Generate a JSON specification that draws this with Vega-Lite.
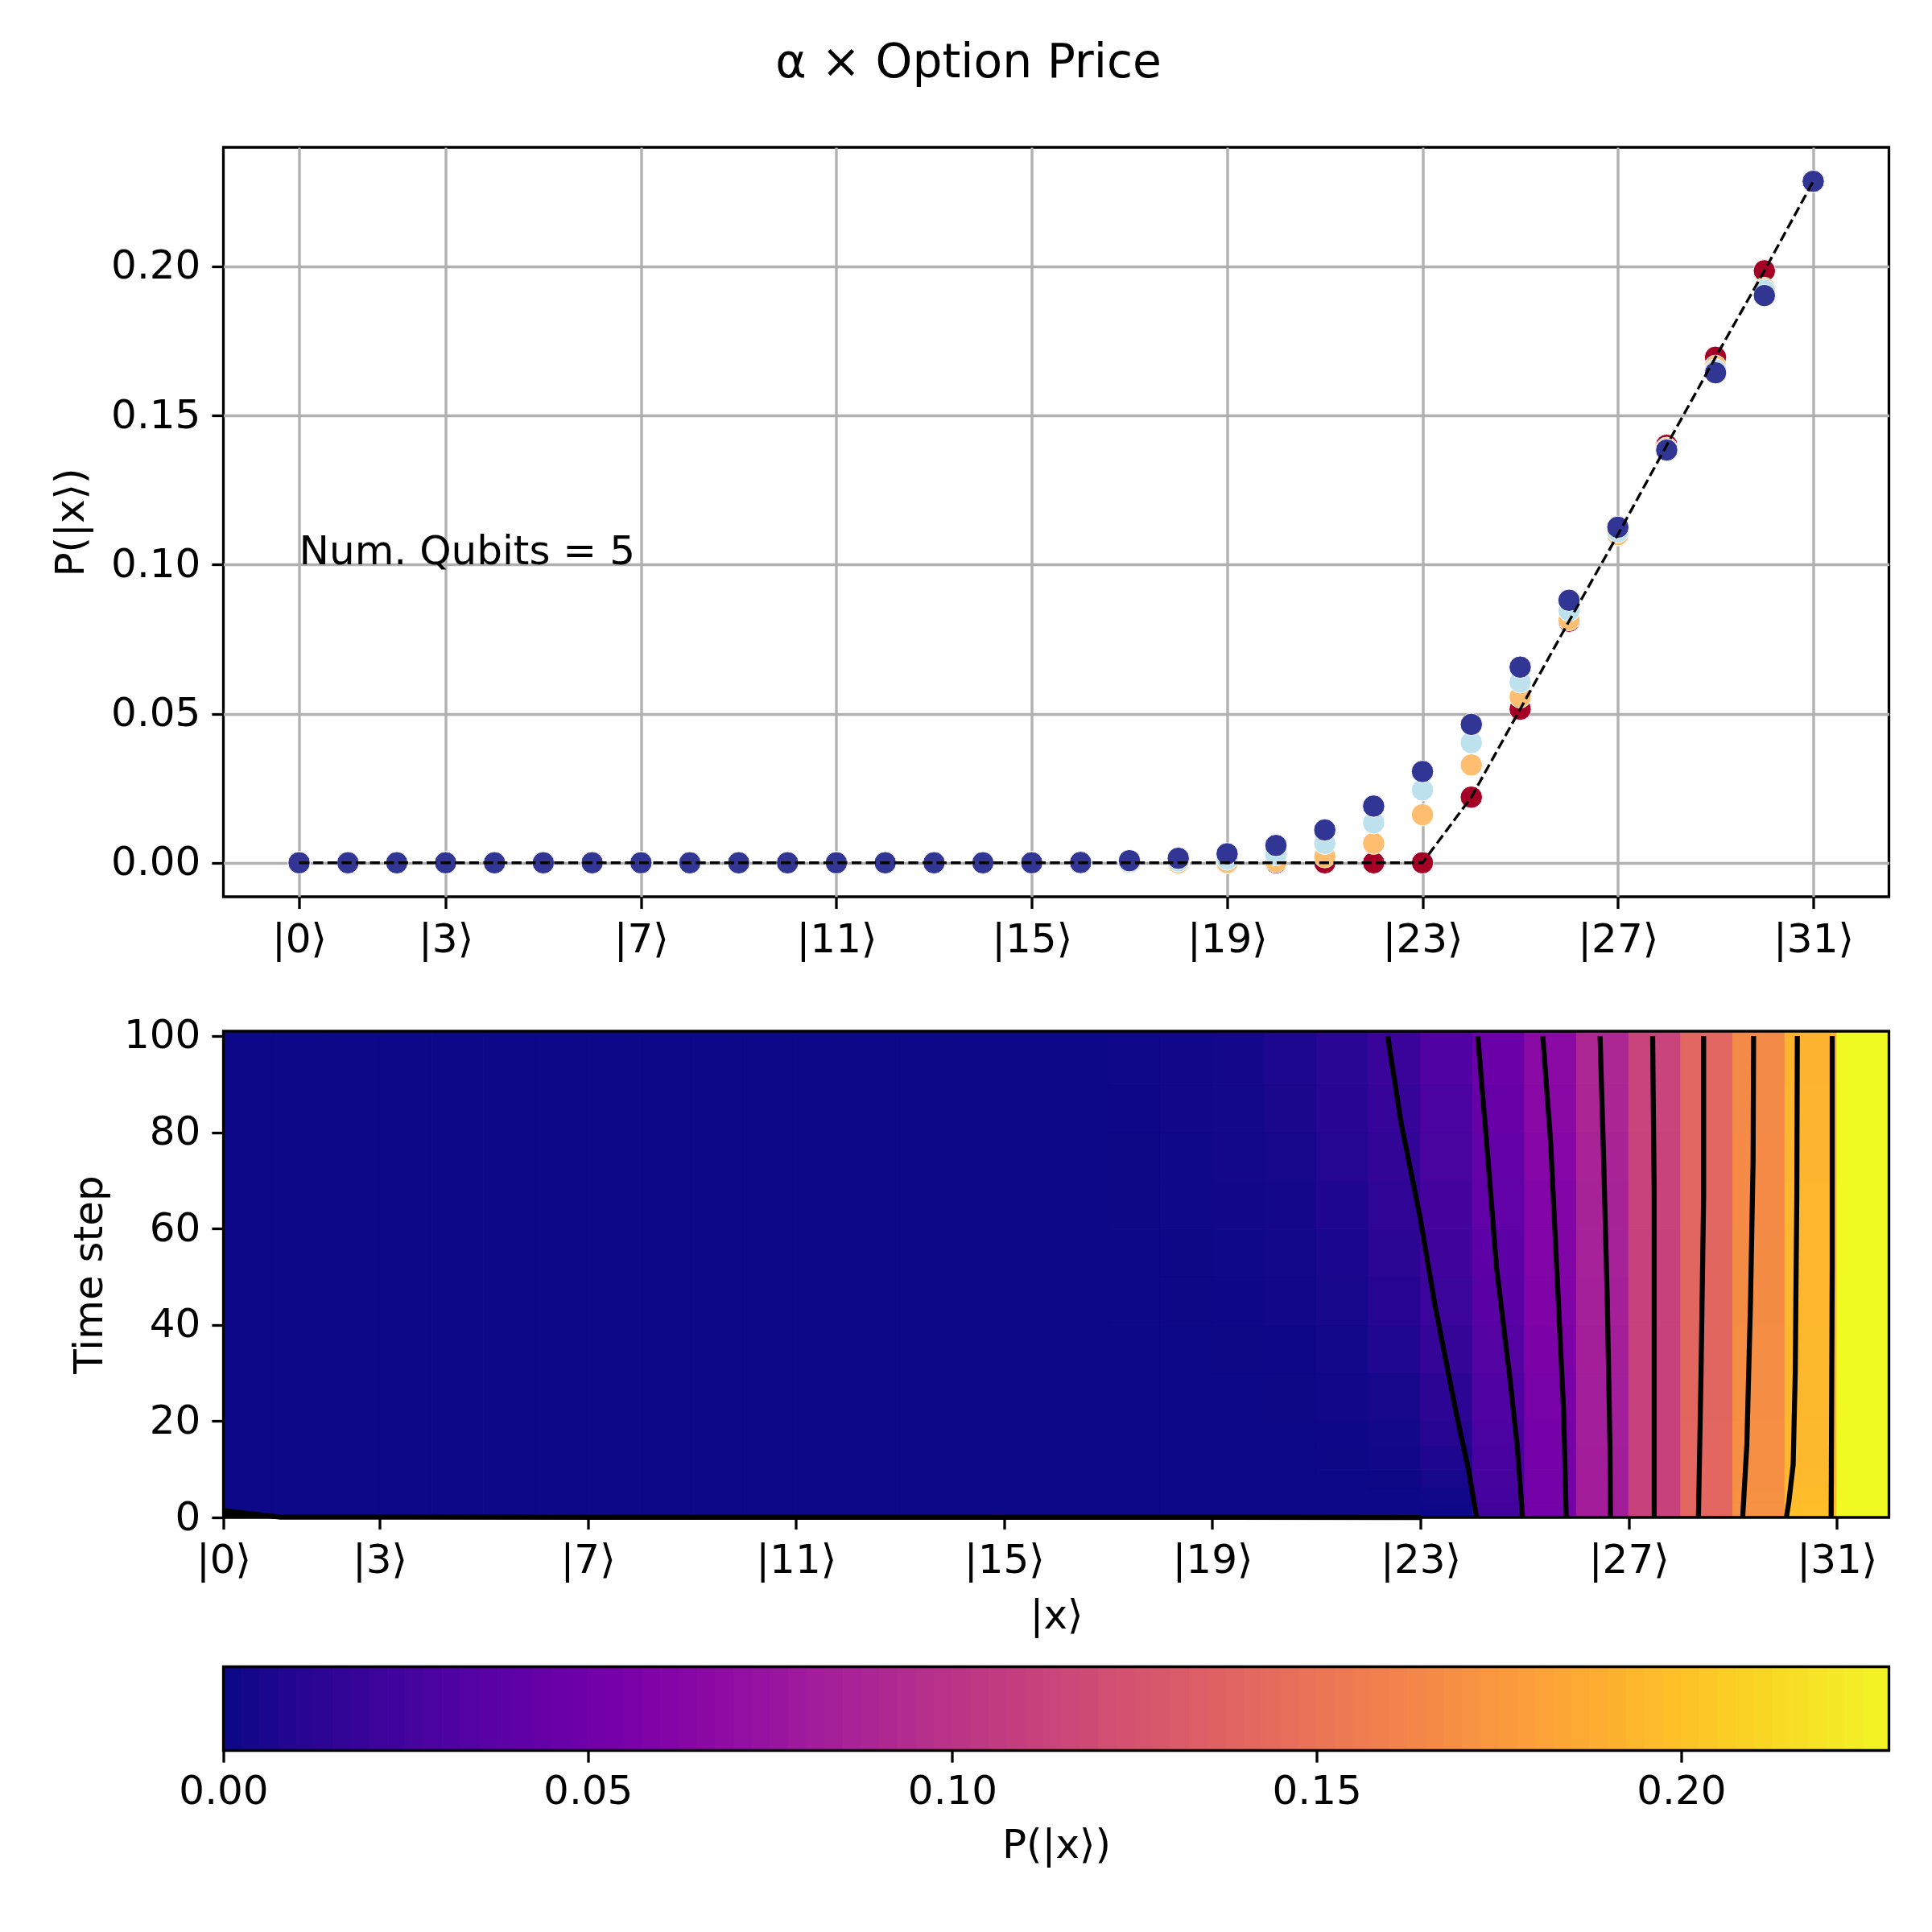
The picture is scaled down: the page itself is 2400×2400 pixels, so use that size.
{
  "$schema": "https://vega.github.io/schema/vega-lite/v6.json",
  "padding": {"left": 61.5, "top": 49, "right": 0, "bottom": 30},
  "background": "white",
  "title": {"text": "α × Option Price", "anchor": "middle", "dx": -2, "offset": 73, "fontSize": 58.3, "fontWeight": "normal", "font": "DejaVu Sans", "color": "black"},
  "bounds": "flush",
  "spacing": 167,
  "datasets": {
    "series": [
      {"state":0,"step":"t0","p":0},{"state":1,"step":"t0","p":0},{"state":2,"step":"t0","p":0},{"state":3,"step":"t0","p":0},{"state":4,"step":"t0","p":0},{"state":5,"step":"t0","p":0},{"state":6,"step":"t0","p":0},{"state":7,"step":"t0","p":0},{"state":8,"step":"t0","p":0},{"state":9,"step":"t0","p":0},{"state":10,"step":"t0","p":0},{"state":11,"step":"t0","p":0},{"state":12,"step":"t0","p":0},{"state":13,"step":"t0","p":0},{"state":14,"step":"t0","p":0},{"state":15,"step":"t0","p":0},{"state":16,"step":"t0","p":0},{"state":17,"step":"t0","p":0},{"state":18,"step":"t0","p":0},{"state":19,"step":"t0","p":0},{"state":20,"step":"t0","p":0},{"state":21,"step":"t0","p":0},{"state":22,"step":"t0","p":0},{"state":23,"step":"t0","p":0},{"state":24,"step":"t0","p":0.022},{"state":25,"step":"t0","p":0.0515},{"state":26,"step":"t0","p":0.081},{"state":27,"step":"t0","p":0.11},{"state":28,"step":"t0","p":0.14},{"state":29,"step":"t0","p":0.1695},{"state":30,"step":"t0","p":0.1985},{"state":31,"step":"t0","p":0.2285},
      {"state":0,"step":"t33","p":0},{"state":1,"step":"t33","p":0},{"state":2,"step":"t33","p":0},{"state":3,"step":"t33","p":0},{"state":4,"step":"t33","p":0},{"state":5,"step":"t33","p":0},{"state":6,"step":"t33","p":0},{"state":7,"step":"t33","p":0},{"state":8,"step":"t33","p":0},{"state":9,"step":"t33","p":0},{"state":10,"step":"t33","p":0},{"state":11,"step":"t33","p":0},{"state":12,"step":"t33","p":0},{"state":13,"step":"t33","p":0},{"state":14,"step":"t33","p":0},{"state":15,"step":"t33","p":0},{"state":16,"step":"t33","p":0},{"state":17,"step":"t33","p":0},{"state":18,"step":"t33","p":0},{"state":19,"step":"t33","p":0.0001},{"state":20,"step":"t33","p":0.0004},{"state":21,"step":"t33","p":0.002},{"state":22,"step":"t33","p":0.0065},{"state":23,"step":"t33","p":0.0161},{"state":24,"step":"t33","p":0.0328},{"state":25,"step":"t33","p":0.0556},{"state":26,"step":"t33","p":0.0815},{"state":27,"step":"t33","p":0.11},{"state":28,"step":"t33","p":0.139},{"state":29,"step":"t33","p":0.1665},{"state":30,"step":"t33","p":0.1926},{"state":31,"step":"t33","p":0.2285},
      {"state":0,"step":"t66","p":0},{"state":1,"step":"t66","p":0},{"state":2,"step":"t66","p":0},{"state":3,"step":"t66","p":0},{"state":4,"step":"t66","p":0},{"state":5,"step":"t66","p":0},{"state":6,"step":"t66","p":0},{"state":7,"step":"t66","p":0},{"state":8,"step":"t66","p":0},{"state":9,"step":"t66","p":0},{"state":10,"step":"t66","p":0},{"state":11,"step":"t66","p":0},{"state":12,"step":"t66","p":0},{"state":13,"step":"t66","p":0},{"state":14,"step":"t66","p":0},{"state":15,"step":"t66","p":0},{"state":16,"step":"t66","p":0},{"state":17,"step":"t66","p":0.0002},{"state":18,"step":"t66","p":0.0006},{"state":19,"step":"t66","p":0.0012},{"state":20,"step":"t66","p":0.0027},{"state":21,"step":"t66","p":0.0065},{"state":22,"step":"t66","p":0.0134},{"state":23,"step":"t66","p":0.0244},{"state":24,"step":"t66","p":0.0403},{"state":25,"step":"t66","p":0.0606},{"state":26,"step":"t66","p":0.0846},{"state":27,"step":"t66","p":0.111},{"state":28,"step":"t66","p":0.1385},{"state":29,"step":"t66","p":0.1653},{"state":30,"step":"t66","p":0.192},{"state":31,"step":"t66","p":0.2285},
      {"state":0,"step":"t100","p":0},{"state":1,"step":"t100","p":0},{"state":2,"step":"t100","p":0},{"state":3,"step":"t100","p":0},{"state":4,"step":"t100","p":0},{"state":5,"step":"t100","p":0},{"state":6,"step":"t100","p":0},{"state":7,"step":"t100","p":0},{"state":8,"step":"t100","p":0},{"state":9,"step":"t100","p":0},{"state":10,"step":"t100","p":0},{"state":11,"step":"t100","p":0},{"state":12,"step":"t100","p":0},{"state":13,"step":"t100","p":0},{"state":14,"step":"t100","p":0},{"state":15,"step":"t100","p":0},{"state":16,"step":"t100","p":0.0001},{"state":17,"step":"t100","p":0.0007},{"state":18,"step":"t100","p":0.0015},{"state":19,"step":"t100","p":0.003},{"state":20,"step":"t100","p":0.0058},{"state":21,"step":"t100","p":0.011},{"state":22,"step":"t100","p":0.019},{"state":23,"step":"t100","p":0.0306},{"state":24,"step":"t100","p":0.0464},{"state":25,"step":"t100","p":0.0656},{"state":26,"step":"t100","p":0.088},{"state":27,"step":"t100","p":0.1125},{"state":28,"step":"t100","p":0.1384},{"state":29,"step":"t100","p":0.1643},{"state":30,"step":"t100","p":0.1902},{"state":31,"step":"t100","p":0.2285}
    ],
    "cells": [
      {"x":0,"x2":1,"t":0,"t2":101,"p":0},{"x":1,"x2":2,"t":0,"t2":101,"p":0},{"x":2,"x2":3,"t":0,"t2":101,"p":0},{"x":3,"x2":4,"t":0,"t2":101,"p":0},{"x":4,"x2":5,"t":0,"t2":101,"p":0},{"x":5,"x2":6,"t":0,"t2":101,"p":0},{"x":6,"x2":7,"t":0,"t2":101,"p":0},{"x":7,"x2":8,"t":0,"t2":101,"p":0},{"x":8,"x2":9,"t":0,"t2":101,"p":0},{"x":9,"x2":10,"t":0,"t2":101,"p":0},{"x":10,"x2":11,"t":0,"t2":101,"p":0},{"x":11,"x2":12,"t":0,"t2":101,"p":0},{"x":12,"x2":13,"t":0,"t2":101,"p":0},{"x":13,"x2":14,"t":0,"t2":101,"p":0},{"x":14,"x2":15,"t":0,"t2":101,"p":0},{"x":15,"x2":16,"t":0,"t2":101,"p":0},{"x":16,"x2":17,"t":0,"t2":101,"p":0},
      {"x":17,"x2":18,"t":0,"t2":40,"p":0},{"x":17,"x2":18,"t":40,"t2":60,"p":0.0001},{"x":17,"x2":18,"t":60,"t2":70,"p":0.0002},{"x":17,"x2":18,"t":70,"t2":80,"p":0.0003},{"x":17,"x2":18,"t":80,"t2":90,"p":0.0005},{"x":17,"x2":18,"t":90,"t2":101,"p":0.0007},
      {"x":18,"x2":19,"t":0,"t2":40,"p":0},{"x":18,"x2":19,"t":40,"t2":50,"p":0.0002},{"x":18,"x2":19,"t":50,"t2":60,"p":0.0004},{"x":18,"x2":19,"t":60,"t2":70,"p":0.0006},{"x":18,"x2":19,"t":70,"t2":80,"p":0.0008},{"x":18,"x2":19,"t":80,"t2":90,"p":0.0011},{"x":18,"x2":19,"t":90,"t2":101,"p":0.0014},
      {"x":19,"x2":20,"t":0,"t2":20,"p":0},{"x":19,"x2":20,"t":20,"t2":30,"p":0.0001},{"x":19,"x2":20,"t":30,"t2":40,"p":0.0002},{"x":19,"x2":20,"t":40,"t2":50,"p":0.0005},{"x":19,"x2":20,"t":50,"t2":60,"p":0.0008},{"x":19,"x2":20,"t":60,"t2":70,"p":0.0012},{"x":19,"x2":20,"t":70,"t2":80,"p":0.0016},{"x":19,"x2":20,"t":80,"t2":90,"p":0.0022},{"x":19,"x2":20,"t":90,"t2":101,"p":0.0028},
      {"x":20,"x2":21,"t":0,"t2":15,"p":0},{"x":20,"x2":21,"t":15,"t2":20,"p":0.0001},{"x":20,"x2":21,"t":20,"t2":30,"p":0.0002},{"x":20,"x2":21,"t":30,"t2":40,"p":0.0005},{"x":20,"x2":21,"t":40,"t2":50,"p":0.001},{"x":20,"x2":21,"t":50,"t2":60,"p":0.0018},{"x":20,"x2":21,"t":60,"t2":70,"p":0.0027},{"x":20,"x2":21,"t":70,"t2":80,"p":0.0036},{"x":20,"x2":21,"t":80,"t2":90,"p":0.0046},{"x":20,"x2":21,"t":90,"t2":101,"p":0.0056},
      {"x":21,"x2":22,"t":0,"t2":10,"p":0},{"x":21,"x2":22,"t":10,"t2":15,"p":0.0002},{"x":21,"x2":22,"t":15,"t2":20,"p":0.0005},{"x":21,"x2":22,"t":20,"t2":30,"p":0.001},{"x":21,"x2":22,"t":30,"t2":40,"p":0.0022},{"x":21,"x2":22,"t":40,"t2":50,"p":0.0035},{"x":21,"x2":22,"t":50,"t2":60,"p":0.005},{"x":21,"x2":22,"t":60,"t2":70,"p":0.0065},{"x":21,"x2":22,"t":70,"t2":80,"p":0.0079},{"x":21,"x2":22,"t":80,"t2":90,"p":0.0094},{"x":21,"x2":22,"t":90,"t2":101,"p":0.0107},
      {"x":22,"x2":23,"t":0,"t2":6,"p":0},{"x":22,"x2":23,"t":6,"t2":10,"p":0.0003},{"x":22,"x2":23,"t":10,"t2":15,"p":0.0009},{"x":22,"x2":23,"t":15,"t2":20,"p":0.0018},{"x":22,"x2":23,"t":20,"t2":30,"p":0.0035},{"x":22,"x2":23,"t":30,"t2":40,"p":0.0068},{"x":22,"x2":23,"t":40,"t2":50,"p":0.009},{"x":22,"x2":23,"t":50,"t2":60,"p":0.0112},{"x":22,"x2":23,"t":60,"t2":70,"p":0.0134},{"x":22,"x2":23,"t":70,"t2":80,"p":0.0152},{"x":22,"x2":23,"t":80,"t2":90,"p":0.0172},{"x":22,"x2":23,"t":90,"t2":101,"p":0.0187},
      {"x":23,"x2":24,"t":0,"t2":1,"p":0},{"x":23,"x2":24,"t":1,"t2":3,"p":0.0005},{"x":23,"x2":24,"t":3,"t2":6,"p":0.0015},{"x":23,"x2":24,"t":6,"t2":10,"p":0.0035},{"x":23,"x2":24,"t":10,"t2":15,"p":0.0065},{"x":23,"x2":24,"t":15,"t2":20,"p":0.009},{"x":23,"x2":24,"t":20,"t2":30,"p":0.0125},{"x":23,"x2":24,"t":30,"t2":40,"p":0.0165},{"x":23,"x2":24,"t":40,"t2":50,"p":0.0195},{"x":23,"x2":24,"t":50,"t2":60,"p":0.022},{"x":23,"x2":24,"t":60,"t2":70,"p":0.0244},{"x":23,"x2":24,"t":70,"t2":80,"p":0.0265},{"x":23,"x2":24,"t":80,"t2":90,"p":0.0285},{"x":23,"x2":24,"t":90,"t2":101,"p":0.0303},
      {"x":24,"x2":25,"t":0,"t2":1,"p":0.022},{"x":24,"x2":25,"t":1,"t2":3,"p":0.0228},{"x":24,"x2":25,"t":3,"t2":6,"p":0.0238},{"x":24,"x2":25,"t":6,"t2":10,"p":0.025},{"x":24,"x2":25,"t":10,"t2":15,"p":0.0268},{"x":24,"x2":25,"t":15,"t2":20,"p":0.0285},{"x":24,"x2":25,"t":20,"t2":30,"p":0.0305},{"x":24,"x2":25,"t":30,"t2":40,"p":0.0332},{"x":24,"x2":25,"t":40,"t2":50,"p":0.0355},{"x":24,"x2":25,"t":50,"t2":60,"p":0.038},{"x":24,"x2":25,"t":60,"t2":70,"p":0.0403},{"x":24,"x2":25,"t":70,"t2":80,"p":0.0423},{"x":24,"x2":25,"t":80,"t2":90,"p":0.0443},{"x":24,"x2":25,"t":90,"t2":101,"p":0.0461},
      {"x":25,"x2":26,"t":0,"t2":3,"p":0.0515},{"x":25,"x2":26,"t":3,"t2":10,"p":0.0519},{"x":25,"x2":26,"t":10,"t2":15,"p":0.0525},{"x":25,"x2":26,"t":15,"t2":20,"p":0.053},{"x":25,"x2":26,"t":20,"t2":30,"p":0.054},{"x":25,"x2":26,"t":30,"t2":40,"p":0.056},{"x":25,"x2":26,"t":40,"t2":50,"p":0.0575},{"x":25,"x2":26,"t":50,"t2":60,"p":0.059},{"x":25,"x2":26,"t":60,"t2":70,"p":0.0606},{"x":25,"x2":26,"t":70,"t2":80,"p":0.0622},{"x":25,"x2":26,"t":80,"t2":90,"p":0.0638},{"x":25,"x2":26,"t":90,"t2":101,"p":0.0654},
      {"x":26,"x2":27,"t":0,"t2":15,"p":0.081},{"x":26,"x2":27,"t":15,"t2":30,"p":0.0813},{"x":26,"x2":27,"t":30,"t2":40,"p":0.0817},{"x":26,"x2":27,"t":40,"t2":50,"p":0.0825},{"x":26,"x2":27,"t":50,"t2":60,"p":0.0835},{"x":26,"x2":27,"t":60,"t2":70,"p":0.0846},{"x":26,"x2":27,"t":70,"t2":80,"p":0.0857},{"x":26,"x2":27,"t":80,"t2":90,"p":0.0868},{"x":26,"x2":27,"t":90,"t2":101,"p":0.0878},
      {"x":27,"x2":28,"t":0,"t2":40,"p":0.11},{"x":27,"x2":28,"t":40,"t2":60,"p":0.1105},{"x":27,"x2":28,"t":60,"t2":80,"p":0.1112},{"x":27,"x2":28,"t":80,"t2":101,"p":0.1122},
      {"x":28,"x2":29,"t":0,"t2":20,"p":0.1394},{"x":28,"x2":29,"t":20,"t2":60,"p":0.139},{"x":28,"x2":29,"t":60,"t2":101,"p":0.1385},
      {"x":29,"x2":30,"t":0,"t2":3,"p":0.1688},{"x":29,"x2":30,"t":3,"t2":6,"p":0.1682},{"x":29,"x2":30,"t":6,"t2":10,"p":0.1678},{"x":29,"x2":30,"t":10,"t2":20,"p":0.1673},{"x":29,"x2":30,"t":20,"t2":40,"p":0.1666},{"x":29,"x2":30,"t":40,"t2":60,"p":0.1658},{"x":29,"x2":30,"t":60,"t2":80,"p":0.1651},{"x":29,"x2":30,"t":80,"t2":101,"p":0.1645},
      {"x":30,"x2":31,"t":0,"t2":1,"p":0.1985},{"x":30,"x2":31,"t":1,"t2":3,"p":0.197},{"x":30,"x2":31,"t":3,"t2":6,"p":0.1958},{"x":30,"x2":31,"t":6,"t2":10,"p":0.1947},{"x":30,"x2":31,"t":10,"t2":20,"p":0.1935},{"x":30,"x2":31,"t":20,"t2":40,"p":0.1927},{"x":30,"x2":31,"t":40,"t2":70,"p":0.1921},{"x":30,"x2":31,"t":70,"t2":90,"p":0.1912},{"x":30,"x2":31,"t":90,"t2":101,"p":0.1903},
      {"x":31,"x2":32,"t":0,"t2":101,"p":0.2285}
    ],
    "contours": [
      {"level":0,"x":0,"t":1.4},{"level":0,"x":1.1,"t":0.05},{"level":0,"x":23,"t":0},
      {"level":0.025,"x":22.37,"t":100},{"level":0.025,"x":22.63,"t":81.8},{"level":0.025,"x":22.99,"t":62.5},{"level":0.025,"x":23.27,"t":44.6},{"level":0.025,"x":23.68,"t":22},{"level":0.025,"x":23.93,"t":9.5},{"level":0.025,"x":24.08,"t":0},
      {"level":0.05,"x":24.1,"t":100},{"level":0.05,"x":24.27,"t":78},{"level":0.05,"x":24.46,"t":52},{"level":0.05,"x":24.71,"t":29.6},{"level":0.05,"x":24.86,"t":14.7},{"level":0.05,"x":24.96,"t":0},
      {"level":0.075,"x":25.35,"t":100},{"level":0.075,"x":25.5,"t":78},{"level":0.075,"x":25.65,"t":44.6},{"level":0.075,"x":25.75,"t":22},{"level":0.075,"x":25.8,"t":0},
      {"level":0.1,"x":26.45,"t":100},{"level":0.1,"x":26.52,"t":74},{"level":0.1,"x":26.59,"t":44.6},{"level":0.1,"x":26.64,"t":15},{"level":0.1,"x":26.65,"t":0},
      {"level":0.125,"x":27.46,"t":100},{"level":0.125,"x":27.49,"t":67},{"level":0.125,"x":27.49,"t":0},
      {"level":0.15,"x":28.44,"t":100},{"level":0.15,"x":28.44,"t":67},{"level":0.15,"x":28.39,"t":30},{"level":0.15,"x":28.34,"t":0},
      {"level":0.175,"x":29.4,"t":100},{"level":0.175,"x":29.39,"t":74},{"level":0.175,"x":29.34,"t":44.6},{"level":0.175,"x":29.27,"t":15},{"level":0.175,"x":29.19,"t":0},
      {"level":0.2,"x":30.24,"t":100},{"level":0.2,"x":30.23,"t":67},{"level":0.2,"x":30.2,"t":30},{"level":0.2,"x":30.16,"t":11},{"level":0.2,"x":30.08,"t":3.5},{"level":0.2,"x":30.03,"t":0},
      {"level":0.225,"x":30.91,"t":100},{"level":0.225,"x":30.91,"t":52},{"level":0.225,"x":30.89,"t":0}
    ],
    "colorbar": [
      {"v":0,"v2":0.0025},{"v":0.0025,"v2":0.005},{"v":0.005,"v2":0.0075},{"v":0.0075,"v2":0.01},{"v":0.01,"v2":0.0125},{"v":0.0125,"v2":0.015},{"v":0.015,"v2":0.0175},{"v":0.0175,"v2":0.02},{"v":0.02,"v2":0.0225},{"v":0.0225,"v2":0.025},{"v":0.025,"v2":0.0275},{"v":0.0275,"v2":0.03},{"v":0.03,"v2":0.0325},{"v":0.0325,"v2":0.035},{"v":0.035,"v2":0.0375},{"v":0.0375,"v2":0.04},{"v":0.04,"v2":0.0425},{"v":0.0425,"v2":0.045},{"v":0.045,"v2":0.0475},{"v":0.0475,"v2":0.05},{"v":0.05,"v2":0.0525},{"v":0.0525,"v2":0.055},{"v":0.055,"v2":0.0575},{"v":0.0575,"v2":0.06},{"v":0.06,"v2":0.0625},{"v":0.0625,"v2":0.065},{"v":0.065,"v2":0.0675},{"v":0.0675,"v2":0.07},{"v":0.07,"v2":0.0725},{"v":0.0725,"v2":0.075},{"v":0.075,"v2":0.0775},{"v":0.0775,"v2":0.08},{"v":0.08,"v2":0.0825},{"v":0.0825,"v2":0.085},{"v":0.085,"v2":0.0875},{"v":0.0875,"v2":0.09},{"v":0.09,"v2":0.0925},{"v":0.0925,"v2":0.095},{"v":0.095,"v2":0.0975},{"v":0.0975,"v2":0.1},{"v":0.1,"v2":0.1025},{"v":0.1025,"v2":0.105},{"v":0.105,"v2":0.1075},{"v":0.1075,"v2":0.11},{"v":0.11,"v2":0.1125},{"v":0.1125,"v2":0.115},{"v":0.115,"v2":0.1175},{"v":0.1175,"v2":0.12},{"v":0.12,"v2":0.1225},{"v":0.1225,"v2":0.125},{"v":0.125,"v2":0.1275},{"v":0.1275,"v2":0.13},{"v":0.13,"v2":0.1325},{"v":0.1325,"v2":0.135},{"v":0.135,"v2":0.1375},{"v":0.1375,"v2":0.14},{"v":0.14,"v2":0.1425},{"v":0.1425,"v2":0.145},{"v":0.145,"v2":0.1475},{"v":0.1475,"v2":0.15},{"v":0.15,"v2":0.1525},{"v":0.1525,"v2":0.155},{"v":0.155,"v2":0.1575},{"v":0.1575,"v2":0.16},{"v":0.16,"v2":0.1625},{"v":0.1625,"v2":0.165},{"v":0.165,"v2":0.1675},{"v":0.1675,"v2":0.17},{"v":0.17,"v2":0.1725},{"v":0.1725,"v2":0.175},{"v":0.175,"v2":0.1775},{"v":0.1775,"v2":0.18},{"v":0.18,"v2":0.1825},{"v":0.1825,"v2":0.185},{"v":0.185,"v2":0.1875},{"v":0.1875,"v2":0.19},{"v":0.19,"v2":0.1925},{"v":0.1925,"v2":0.195},{"v":0.195,"v2":0.1975},{"v":0.1975,"v2":0.2},{"v":0.2,"v2":0.2025},{"v":0.2025,"v2":0.205},{"v":0.205,"v2":0.2075},{"v":0.2075,"v2":0.21},{"v":0.21,"v2":0.2125},{"v":0.2125,"v2":0.215},{"v":0.215,"v2":0.2175},{"v":0.2175,"v2":0.22},{"v":0.22,"v2":0.2225},{"v":0.2225,"v2":0.225},{"v":0.225,"v2":0.2285}
    ]
  },
  "vconcat": [
    {
      "width": 2069,
      "height": 931,
      "view": {"stroke": "black", "strokeWidth": 3.3},
      "layer": [
        {
          "data": {"name": "series"},
          "mark": {"type": "point", "filled": true, "size": 760, "opacity": 1, "stroke": "white", "strokeWidth": 1},
          "encoding": {
            "x": {
              "field": "state", "type": "quantitative",
              "scale": {"domain": [-1.55, 32.55], "nice": false, "zero": false},
              "axis": {"values": [0, 3, 7, 11, 15, 19, 23, 27, 31], "labelExpr": "'|' + datum.value + '⟩'", "title": null, "grid": true}
            },
            "y": {
              "field": "p", "type": "quantitative",
              "scale": {"domain": [-0.0114, 0.2399], "nice": false, "zero": false},
              "axis": {"values": [0, 0.05, 0.1, 0.15, 0.2], "format": ".2f", "title": "P(|x⟩)", "grid": true, "titlePadding": 24}
            },
            "color": {
              "field": "step", "type": "nominal",
              "scale": {"domain": ["t0", "t33", "t66", "t100"], "range": ["#a50026", "#fdbe70", "#bde2ee", "#313695"]},
              "legend": null
            }
          }
        },
        {
          "data": {"name": "series"},
          "transform": [{"filter": "datum.step === 't0'"}],
          "mark": {"type": "line", "color": "black", "strokeWidth": 3.3, "strokeDash": [12.3, 5.3]},
          "encoding": {
            "x": {"field": "state", "type": "quantitative"},
            "y": {"field": "p", "type": "quantitative"}
          }
        },
        {
          "data": {"values": [{"state": 0, "p": 0.1, "note": "Num. Qubits = 5"}]},
          "mark": {"type": "text", "align": "left", "baseline": "alphabetic", "fontSize": 50, "font": "DejaVu Sans", "color": "black"},
          "encoding": {
            "x": {"field": "state", "type": "quantitative"},
            "y": {"field": "p", "type": "quantitative"},
            "text": {"field": "note"}
          }
        }
      ]
    },
    {
      "width": 2069,
      "height": 604,
      "view": {"stroke": null},
      "layer": [
        {
          "data": {"name": "cells"},
          "mark": {"type": "rect", "strokeWidth": 1},
          "encoding": {
            "x": {
              "field": "x", "type": "quantitative",
              "scale": {"domain": [0, 32], "nice": false, "zero": false},
              "axis": {"values": [0, 3, 7, 11, 15, 19, 23, 27, 31], "labelExpr": "'|' + datum.value + '⟩'", "title": "|x⟩", "grid": false, "titlePadding": 19, "zindex": 1}
            },
            "x2": {"field": "x2"},
            "y": {
              "field": "t", "type": "quantitative",
              "scale": {"domain": [0, 101], "nice": false, "zero": false},
              "axis": {"values": [0, 20, 40, 60, 80, 100], "title": "Time step", "grid": false, "titlePadding": 17, "zindex": 1}
            },
            "y2": {"field": "t2"},
            "color": {"field": "p", "type": "quantitative", "scale": {"scheme": "plasma", "domain": [0, 0.2285]}, "legend": null},
            "stroke": {"field": "p", "type": "quantitative", "scale": {"scheme": "plasma", "domain": [0, 0.2285]}, "legend": null}
          }
        },
        {
          "data": {"values": [{"x": 0, "t": 1.4}, {"x": 1.1, "t": 0}]},
          "mark": {"type": "area", "color": "black"},
          "encoding": {
            "x": {"field": "x", "type": "quantitative"},
            "y": {"field": "t", "type": "quantitative"}
          }
        },
        {
          "data": {"name": "contours"},
          "mark": {"type": "line", "color": "black", "strokeWidth": 6.25},
          "encoding": {
            "x": {"field": "x", "type": "quantitative"},
            "y": {"field": "t", "type": "quantitative"},
            "detail": {"field": "level"},
            "order": {"field": "t", "sort": "descending"}
          }
        },
        {
          "data": {"values": [{"x": 0, "x2": 32, "t": 0, "t2": 101}]},
          "mark": {"type": "rect", "filled": false, "stroke": "black", "strokeWidth": 3.3},
          "encoding": {
            "x": {"field": "x", "type": "quantitative"},
            "x2": {"field": "x2"},
            "y": {"field": "t", "type": "quantitative"},
            "y2": {"field": "t2"}
          }
        }
      ]
    },
    {
      "width": 2069,
      "height": 122.5,
      "view": {"stroke": null},
      "layer": [
        {
          "data": {"name": "colorbar"},
          "mark": {"type": "rect", "strokeWidth": 1},
          "encoding": {
            "x": {
              "field": "v", "type": "quantitative",
              "scale": {"domain": [0, 0.2285], "nice": false, "zero": false},
              "axis": {"values": [0, 0.05, 0.1, 0.15, 0.2], "format": ".2f", "title": "P(|x⟩)", "grid": false, "labelPadding": 11, "titlePadding": 17, "zindex": 1}
            },
            "x2": {"field": "v2"},
            "y": {"datum": 0, "type": "quantitative", "scale": {"domain": [0, 1], "range": [122.5, 18.5]}, "axis": null},
            "y2": {"datum": 1},
            "color": {"field": "v", "type": "quantitative", "scale": {"scheme": "plasma", "domain": [0, 0.2285]}, "legend": null},
            "stroke": {"field": "v", "type": "quantitative", "scale": {"scheme": "plasma", "domain": [0, 0.2285]}, "legend": null}
          }
        },
        {
          "data": {"values": [{"v": 0, "v2": 0.2285}]},
          "mark": {"type": "rect", "filled": false, "stroke": "black", "strokeWidth": 3.3},
          "encoding": {
            "x": {"field": "v", "type": "quantitative"},
            "x2": {"field": "v2"},
            "y": {"datum": 0, "type": "quantitative"},
            "y2": {"datum": 1}
          }
        }
      ]
    }
  ],
  "config": {
    "font": "DejaVu Sans",
    "axis": {
      "labelFont": "DejaVu Sans", "titleFont": "DejaVu Sans",
      "labelFontSize": 50, "titleFontSize": 50, "titleFontWeight": "normal",
      "labelColor": "black", "titleColor": "black",
      "tickColor": "black", "tickSize": 14.6, "tickWidth": 3.3,
      "gridColor": "#b0b0b0", "gridWidth": 3.3,
      "domain": false, "labelPadding": 14, "labelOverlap": false, "labelBound": false, "labelFlush": false
    }
  }
}
